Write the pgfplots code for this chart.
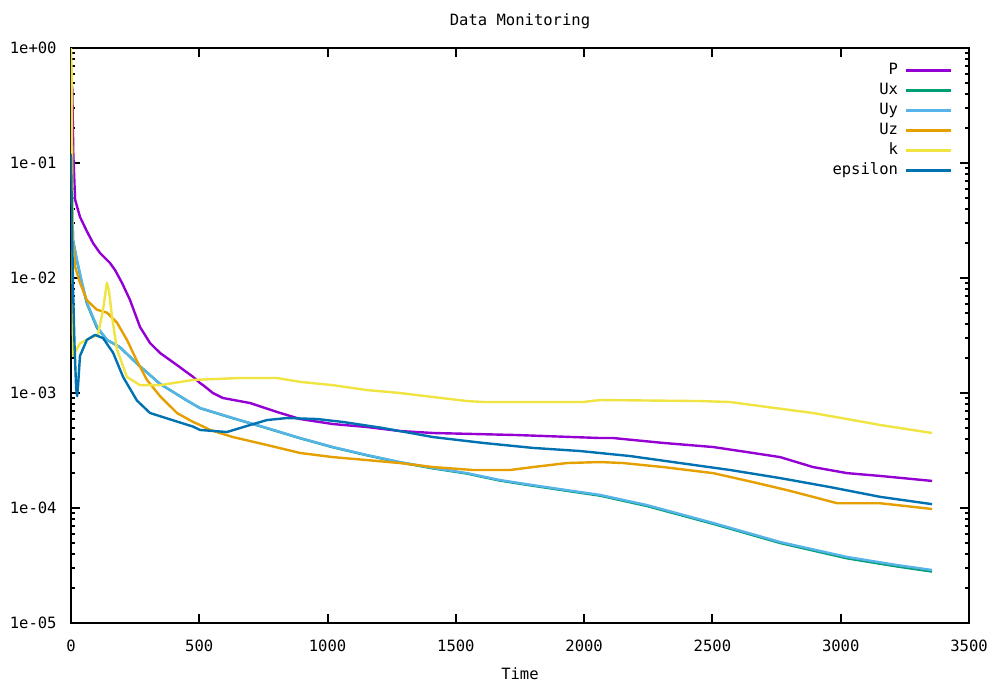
\documentclass[border=0pt]{standalone}
\usepackage{fontspec}
\setmainfont{DejaVu Sans Mono}
\usepackage{pgfplots}
\pgfplotsset{compat=1.18}
\definecolor{cP}{HTML}{9400D3}
\definecolor{cUx}{HTML}{009E73}
\definecolor{cUy}{HTML}{56B4E9}
\definecolor{cUz}{HTML}{E69F00}
\definecolor{ck}{HTML}{F0E442}
\definecolor{ceps}{HTML}{0072B2}
\begin{document}
\fontsize{7.8}{9}\selectfont
\begin{tikzpicture}
\useasboundingbox (-35.5bp,-29.5bp) rectangle (462bp,311.5bp);
\begin{axis}[at={(0,0)}, anchor=south west, scale only axis,
  width=449bp, height=287.5bp,
  ymode=log, xmin=0, xmax=3500, ymin=1e-5, ymax=1,
  xtick={0,500,1000,1500,2000,2500,3000,3500},
  xticklabels={0,500,1000,1500,2000,2500,3000,3500},
  ytick={1e-5,1e-4,1e-3,1e-2,1e-1,1},
  yticklabels={1e-05,1e-04,1e-03,1e-02,1e-01,1e+00},
  minor ytick={2e-5,3e-5,4e-5,5e-5,6e-5,7e-5,8e-5,9e-5,
    2e-4,3e-4,4e-4,5e-4,6e-4,7e-4,8e-4,9e-4,
    2e-3,3e-3,4e-3,5e-3,6e-3,7e-3,8e-3,9e-3,
    2e-2,3e-2,4e-2,5e-2,6e-2,7e-2,8e-2,9e-2,
    0.2,0.3,0.4,0.5,0.6,0.7,0.8,0.9},
  tick align=inside, major tick length=4.5bp, minor tick length=2.2bp,
  axis line style={line width=1.2bp},
  every tick/.style={black, line width=1bp},
  ticklabel style={font=\fontsize{7.8}{9}\selectfont},
  yticklabel style={anchor=east, inner sep=0pt, xshift=-7bp},
  xticklabel style={anchor=center, inner sep=0pt, yshift=-11.5bp},
  title={Data Monitoring},
  title style={at={(axis description cs:0.5,1)}, anchor=center, yshift=7.5bp, inner sep=0pt},
  xlabel={Time},
  xlabel style={at={(axis description cs:0.5,0)}, anchor=center, yshift=-25.5bp, inner sep=0pt},
  legend plot pos=right, legend cell align=right,
  legend style={draw=none, fill=none, at={(axis description cs:1,1)}, anchor=north east,
    xshift=-8bp, yshift=-7.5bp, inner sep=0pt, row sep=3bp, column sep=3.5bp,
    font=\fontsize{7.8}{9}\selectfont,
    nodes={inner sep=0pt, text height=5.5bp, text depth=1.5bp}},
  legend image code/.code={\draw[#1, line width=1.3bp] (0bp,0bp) -- (22.5bp,0bp);},
  every axis plot/.append style={line width=1.2bp, line join=round},
]
\addplot[cP] coordinates {(0,0.5) (5,0.45) (9,0.12) (16,0.048) (35,0.034) (60,0.026) (86,0.0201) (113,0.0165) (152,0.0135) (172,0.0117) (199,0.00905) (230,0.00644) (269,0.00375) (308,0.00272) (347,0.00223) (413,0.00175) (476,0.00138) (503,0.00122) (515,0.00117) (553,0.00100) (592,0.000905) (698,0.000818) (803,0.000684) (893,0.000594) (1021,0.000537) (1154,0.000506) (1282,0.000467) (1411,0.000449) (1738,0.000431) (2062,0.000406) (2113,0.000406) (2308,0.000368) (2503,0.000339) (2658,0.000301) (2764,0.000277) (2892,0.000227) (3025,0.000201) (3154,0.000190) (3356,0.000172)};
\addlegendentry{P}
\addplot[cUx] coordinates {(0,0.11) (4,0.048) (8,0.021) (23,0.0142) (43,0.0089) (62,0.0060) (101,0.0037) (140,0.0029) (191,0.0025) (257,0.0018) (347,0.0012) (452,0.00086) (503,0.000738) (631,0.000603) (764,0.000494) (893,0.000404) (1021,0.000337) (1154,0.000287) (1282,0.000249) (1411,0.000221) (1544,0.000199) (1672,0.000173) (1801,0.000156) (1933,0.000141) (2062,0.000128) (2245,0.000104) (2503,0.0000728) (2764,0.0000496) (3025,0.0000365) (3220,0.0000310) (3356,0.0000280)};
\addlegendentry{Ux}
\addplot[cUy] coordinates {(0,0.12) (4,0.05) (8,0.0215) (23,0.0144) (43,0.0091) (62,0.0061) (101,0.0038) (140,0.0029) (191,0.0025) (257,0.0018) (347,0.0012) (452,0.00086) (503,0.000741) (631,0.000606) (764,0.000496) (893,0.000406) (1021,0.000339) (1154,0.000289) (1282,0.000251) (1411,0.000223) (1544,0.000201) (1672,0.000175) (1801,0.000158) (1933,0.000143) (2062,0.000130) (2245,0.000106) (2503,0.0000741) (2764,0.0000506) (3025,0.0000375) (3220,0.0000319) (3356,0.0000289)};
\addlegendentry{Uy}
\addplot[cUz] coordinates {(0,0.8) (4,0.05) (8,0.02) (16,0.0125) (35,0.0091) (62,0.0064) (101,0.0053) (140,0.0050) (179,0.0041) (218,0.0029) (257,0.0019) (296,0.0013) (347,0.00094) (413,0.00067) (476,0.00056) (503,0.000527) (542,0.000477) (631,0.000414) (764,0.000353) (893,0.000301) (1021,0.000277) (1154,0.000261) (1282,0.000246) (1411,0.000227) (1567,0.000214) (1711,0.000214) (1801,0.000227) (1933,0.000246) (2062,0.000251) (2152,0.000246) (2308,0.000227) (2503,0.000201) (2658,0.000168) (2791,0.000143) (2892,0.000125) (2986,0.000110) (3154,0.000110) (3220,0.000106) (3356,0.000098)};
\addlegendentry{Uz}
\addplot[ck] coordinates {(0,1.0) (3,0.5) (5,0.05) (8,0.0021) (35,0.0027) (74,0.0030) (105,0.0032) (125,0.0053) (140,0.0091) (148,0.0078) (160,0.0046) (179,0.0024) (218,0.00138) (269,0.00117) (347,0.00117) (476,0.00130) (659,0.00135) (803,0.00135) (893,0.00125) (1021,0.00117) (1154,0.00106) (1282,0.00100) (1411,0.000923) (1544,0.000851) (1606,0.000835) (1996,0.000835) (2062,0.000869) (2452,0.000851) (2569,0.000835) (2713,0.000756) (2892,0.000670) (3025,0.000594) (3154,0.000527) (3356,0.000449)};
\addlegendentry{k}
\addplot[ceps] coordinates {(0,0.12) (4,0.03) (8,0.008) (14,0.0025) (20,0.0011) (24,0.00094) (28,0.0012) (35,0.0021) (62,0.0029) (94,0.0032) (125,0.0030) (164,0.00224) (203,0.00138) (257,0.00086) (308,0.00067) (386,0.00059) (476,0.00051) (503,0.000477) (608,0.000458) (698,0.000527) (764,0.000582) (842,0.000606) (959,0.000594) (1060,0.00056) (1216,0.000496) (1411,0.000414) (1606,0.000368) (1801,0.000333) (1984,0.000313) (2179,0.000283) (2374,0.000246) (2569,0.000214) (2764,0.000182) (2959,0.000152) (3154,0.000125) (3356,0.000108)};
\addlegendentry{epsilon}
\end{axis}
\end{tikzpicture}
\end{document}
